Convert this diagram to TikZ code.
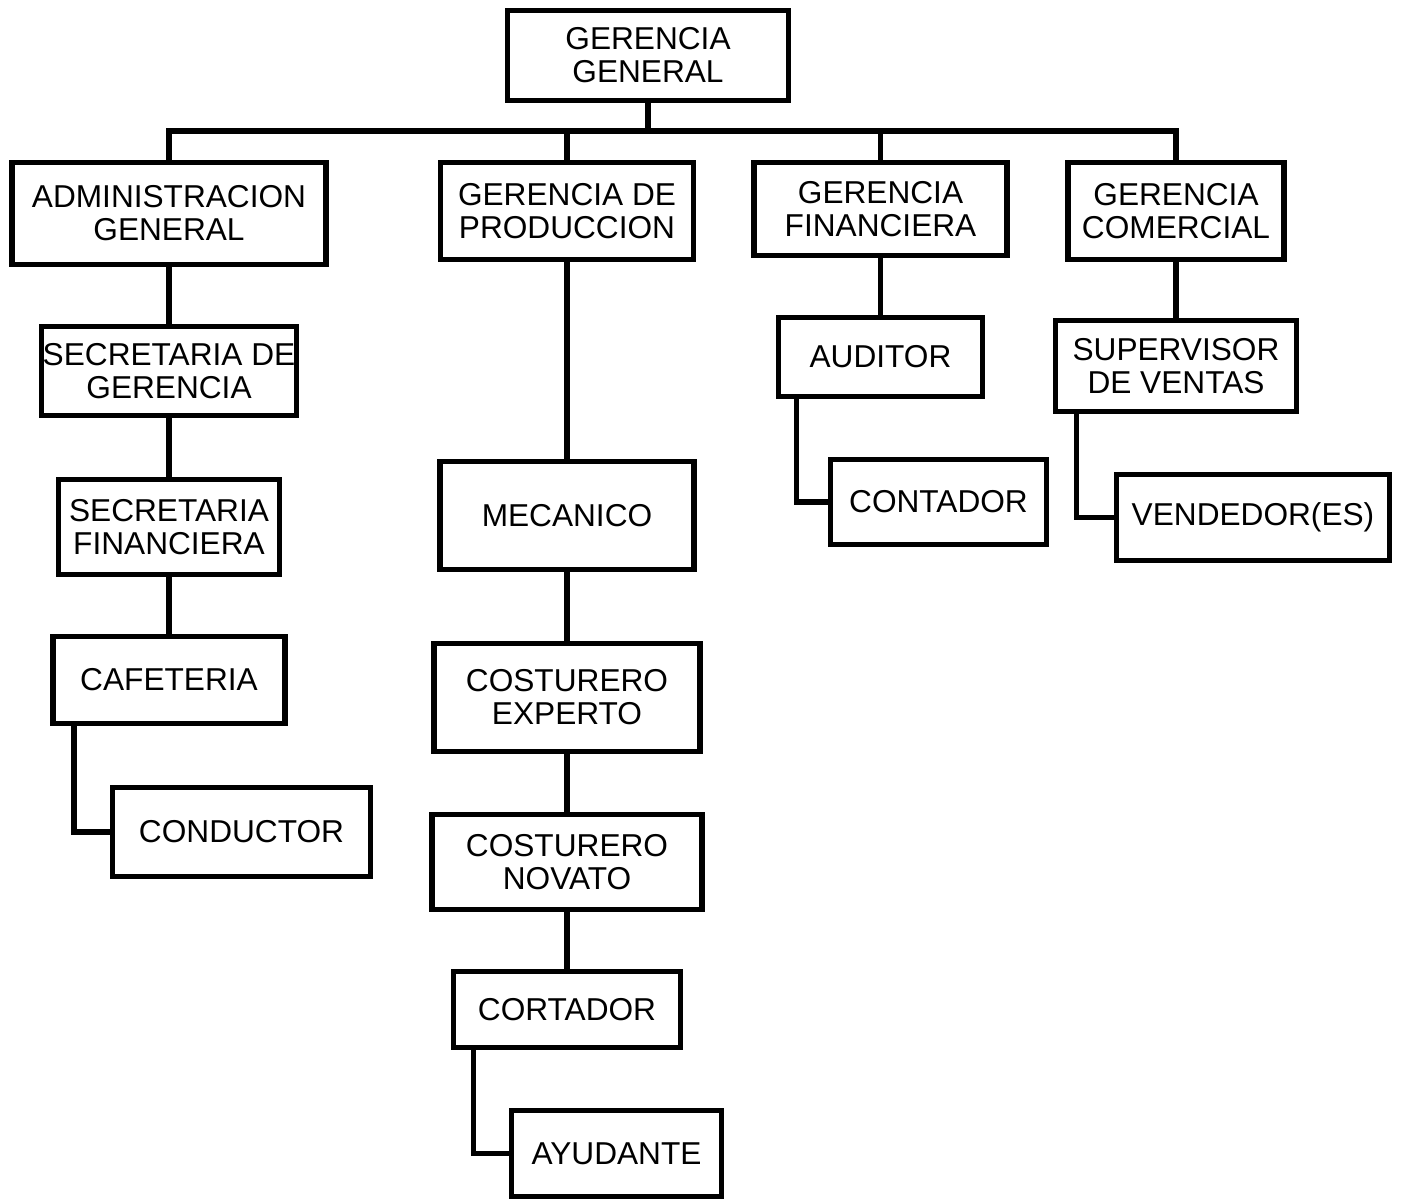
\documentclass[tikz,border=0pt]{standalone}
\usepackage{fontspec}
\setmainfont{Liberation Sans}
\usepackage{tikz}
\usetikzlibrary{positioning,calc}

\tikzset{
    cargo/.style={draw, line width=2.9pt, align=center, inner sep=0pt,
        font=\fontsize{18}{18.8}\selectfont},
    enlace/.style={line width=2.9pt}
}

\begin{document}
\begin{tikzpicture}
    \useasboundingbox[fill=white] (0,0) rectangle (28.02,-24);

    % Gerencia general
    \node[cargo, minimum width=5.62cm, minimum height=1.8cm] (gg) at (12.96,-1.11) {GERENCIA\\GENERAL};
    \coordinate (bus) at (0,-2.62);

    % Gerencias
    \node[cargo, minimum width=6.28cm, minimum height=2.04cm] (adm) at (3.38,-4.27) {ADMINISTRACION\\GENERAL};
    \node[cargo, minimum width=5.06cm, minimum height=1.94cm] (gdp) at (11.34,-4.22) {GERENCIA DE\\PRODUCCION};
    \node[cargo, minimum width=5.06cm, minimum height=1.86cm] (gf) at (17.61,-4.18) {GERENCIA\\FINANCIERA};
    \node[cargo, minimum width=4.32cm, minimum height=1.94cm] (gc) at (23.52,-4.22) {GERENCIA\\COMERCIAL};

    \draw[enlace] (gg.south) -- (gg |- bus);
    \draw[enlace] (adm.north) -- (adm.north |- bus) -| (gc.north);
    \draw[enlace] (gdp.north) -- (gdp.north |- bus);
    \draw[enlace] (gf.north) -- (gf.north |- bus);

    % Administracion
    \node[cargo, minimum width=5.1cm, minimum height=1.78cm] (secg) at (3.38,-7.42) {SECRETARIA DE\\GERENCIA};
    \node[cargo, minimum width=4.42cm, minimum height=1.9cm] (secf) at (3.38,-10.54) {SECRETARIA\\FINANCIERA};
    \node[cargo, minimum width=4.64cm, minimum height=1.74cm] (caf) at (3.38,-13.6) {CAFETERIA};
    \node[cargo, minimum width=5.16cm, minimum height=1.78cm] (cond) at (4.83,-16.64) {CONDUCTOR};
    \draw[enlace] (adm) -- (secg);
    \draw[enlace] (secg) -- (secf);
    \draw[enlace] (secf) -- (caf);
    \draw[enlace] ([xshift=0.47cm]caf.south west) |- (cond.west);

    % Produccion
    \node[cargo, minimum width=5.08cm, minimum height=2.16cm] (mec) at (11.34,-10.31) {MECANICO};
    \node[cargo, minimum width=5.32cm, minimum height=2.16cm] (cexp) at (11.34,-13.95) {COSTURERO\\EXPERTO};
    \node[cargo, minimum width=5.4cm, minimum height=1.9cm] (cnov) at (11.34,-17.24) {COSTURERO\\NOVATO};
    \node[cargo, minimum width=4.54cm, minimum height=1.52cm] (cort) at (11.34,-20.19) {CORTADOR};
    \node[cargo, minimum width=4.2cm, minimum height=1.72cm] (ayu) at (12.33,-23.07) {AYUDANTE};
    \draw[enlace] (gdp) -- (mec);
    \draw[enlace] (mec) -- (cexp);
    \draw[enlace] (cexp) -- (cnov);
    \draw[enlace] (cnov) -- (cort);
    \draw[enlace] ([xshift=0.45cm]cort.south west) |- (ayu.west);

    % Finanzas
    \node[cargo, minimum width=4.08cm, minimum height=1.58cm] (aud) at (17.61,-7.14) {AUDITOR};
    \node[cargo, minimum width=4.32cm, minimum height=1.7cm] (cont) at (18.77,-10.04) {CONTADOR};
    \draw[enlace] (gf) -- (aud);
    \draw[enlace] ([xshift=0.41cm]aud.south west) |- (cont.west);

    % Comercial
    \node[cargo, minimum width=4.82cm, minimum height=1.82cm] (sup) at (23.52,-7.32) {SUPERVISOR\\DE VENTAS};
    \node[cargo, minimum width=5.46cm, minimum height=1.72cm] (vend) at (25.06,-10.35) {VENDEDOR(ES)};
    \draw[enlace] (gc) -- (sup);
    \draw[enlace] ([xshift=0.47cm]sup.south west) |- (vend.west);
\end{tikzpicture}
\end{document}
